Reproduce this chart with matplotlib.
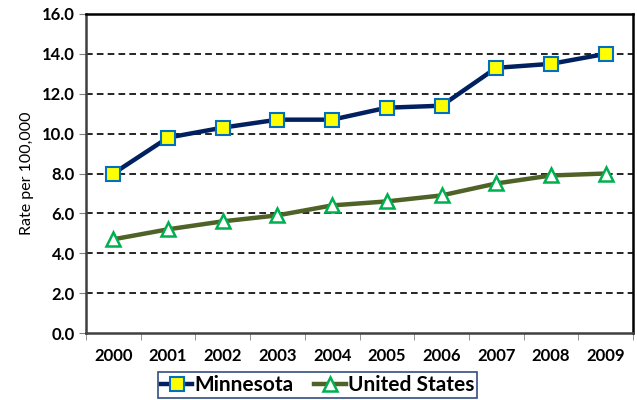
import matplotlib
matplotlib.use("Agg")
import matplotlib.pyplot as plt
from matplotlib.ticker import FixedLocator, NullFormatter

years = ["2000", "2001", "2002", "2003", "2004", "2005", "2006", "2007", "2008", "2009"]
minnesota = [8.0, 9.8, 10.3, 10.7, 10.7, 11.3, 11.4, 13.3, 13.5, 14.0]
united_states = [4.7, 5.2, 5.6, 5.9, 6.4, 6.6, 6.9, 7.5, 7.9, 8.0]
y_ticks = [0, 2, 4, 6, 8, 10, 12, 14, 16]

plt.rcParams['font.family'] = ['Lato', 'DejaVu Sans']

fig = plt.figure(figsize=(6.37, 4.0), dpi=100)
ax = fig.add_axes([86/637, 67/400, (633-86)/637, (333-14)/400])

x = list(range(len(years)))
ax.plot(x, minnesota, color='#002060', lw=3.2, marker='s', ms=10,
        mfc='#FFFF00', mec='#0070C0', mew=1.5, label='Minnesota', zorder=3)
ax.plot(x, united_states, color='#4F6228', lw=3.2, marker='^', ms=10.5,
        mfc='white', mec='#00B050', mew=1.8, label='United States', zorder=3)

ax.set_xlim(-0.5, len(years) - 0.5)
ax.set_ylim(0, 16)
ax.set_yticks(y_ticks)
ax.set_yticklabels([f"{v:.1f}" for v in y_ticks], fontsize=12, fontweight='bold')
ax.set_xticks(x)
ax.set_xticklabels(years, fontsize=12, fontweight='bold')
ax.tick_params(axis='x', which='major', length=0, pad=11)
ax.xaxis.set_minor_locator(FixedLocator([i - 0.5 for i in range(len(years) + 1)]))
ax.xaxis.set_minor_formatter(NullFormatter())
ax.tick_params(axis='x', which='minor', length=5, color='#808080', direction='out')
ax.tick_params(axis='y', which='major', length=5, color='#808080', direction='out', pad=3)

for v in y_ticks[1:-1]:
    ax.axhline(v, color='black', lw=1.2, ls=(0, (4, 2.5)), zorder=1)

ax.spines['left'].set_color('#404040')
ax.spines['bottom'].set_color('#404040')
ax.spines['top'].set_color('black')
ax.spines['right'].set_color('black')
for s in ax.spines.values():
    s.set_linewidth(1.8)

ax.set_ylabel("Rate per 100,000", fontsize=11.5, labelpad=6)

leg = fig.legend(loc='upper left', bbox_to_anchor=(158/637, 28/400), ncol=2,
                 prop={'weight': 'bold', 'size': 15}, frameon=True,
                 fancybox=False, handlelength=1.5, handletextpad=0.1,
                 columnspacing=1.0, borderpad=0.15, borderaxespad=0)
leg.get_frame().set_edgecolor('#002060')
leg.get_frame().set_linewidth(1.2)

fig.savefig("out.png", dpi=100)
